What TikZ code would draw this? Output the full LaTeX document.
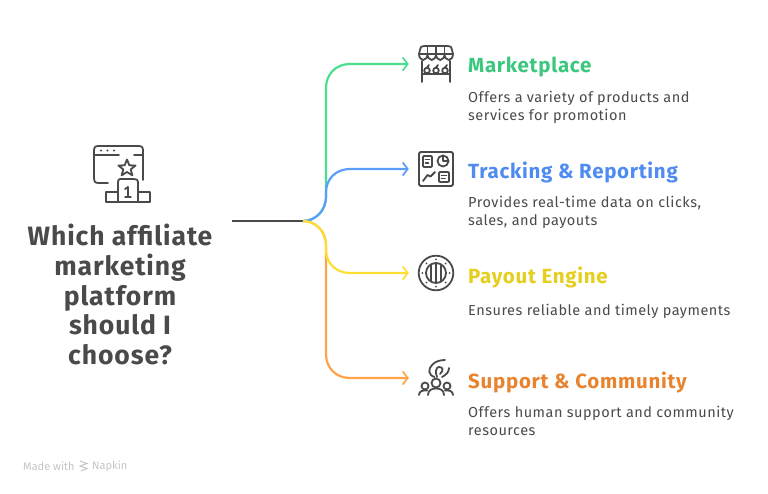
\documentclass[tikz,border=0pt]{standalone}
\usepackage{fontspec}
\setmainfont[LetterSpace=3.5]{Fira Sans}
\newfontfamily\plainfooter{Fira Sans}
\usepackage{xcolor}
\usetikzlibrary{positioning,arrows.meta}

\definecolor{inkgray}{HTML}{4A4A4A}
\definecolor{footgray}{HTML}{C4C4C4}
\definecolor{linegreen}{HTML}{4ADE8E}
\definecolor{lineblue}{HTML}{5B9DF9}
\definecolor{lineyellow}{HTML}{FFDE34}
\definecolor{lineorange}{HTML}{FFA446}
\definecolor{titlegreen}{HTML}{3CC77E}
\definecolor{titleblue}{HTML}{4F8BF0}
\definecolor{titleyellow}{HTML}{E5CF1C}
\definecolor{titleorange}{HTML}{E8842F}

\tikzset{
    iconbox/.style={minimum size=34pt, inner sep=0pt},
    heading/.style={anchor=west, inner sep=0pt, font=\fontsize{20.5}{24}\selectfont\bfseries},
    blurb/.style={anchor=north west, inner sep=0pt, align=left, text=inkgray,
        font=\fontsize{14.5}{18}\selectfont},
    question/.style={align=center, inner sep=0pt, text=inkgray,
        font=\fontsize{26.5}{29.7}\selectfont\bfseries},
    footnote/.style={anchor=west, inner sep=0pt, text=footgray,
        font=\plainfooter\fontsize{11}{12}\selectfont},
    link/.style={line width=2.2pt, -{Straight Barb[length=5pt,width=13pt,line width=1.7pt]},
        shorten >=10pt},
    stem/.style={line width=2.2pt, inkgray},
    glyph/.style={line width=1.8pt, inkgray, line cap=round, line join=round},
    stallicon/.pic={
        \draw[glyph] (-17,-10) -- (-16,-14) .. controls (-15.5,-17) and (-15,-18) .. (-12,-18)
            -- (12,-18) .. controls (15,-18) and (15.5,-17) .. (16,-14) -- (17,-10);
        \draw[glyph] (-17,-10) -- (17,-10);
        \draw[glyph] (-17,-10) arc[start angle=180, end angle=0, x radius=4.25, y radius=6]
            arc[start angle=180, end angle=0, x radius=4.25, y radius=6]
            arc[start angle=180, end angle=0, x radius=4.25, y radius=6]
            arc[start angle=180, end angle=0, x radius=4.25, y radius=6];
        \draw[glyph] (-8.5,-18) -- (-8.5,-10) (0,-18) -- (0,-10) (8.5,-18) -- (8.5,-10);
        \draw[glyph] (-14,-3) -- (-14,18) (14,-3) -- (14,18) (-14,10) -- (14,10);
        \draw[glyph] (-9,6.5) circle[radius=2.8] (0,6.5) circle[radius=2.8] (9,6.5) circle[radius=2.8];
        \draw[glyph] (-9,3.5) -- (-7,1) (0,3.5) -- (2,1) (9,3.5) -- (11,1);
    },
    trackicon/.pic={
        \draw[glyph, rounded corners=1.5pt] (-17,-17) rectangle (17,17);
        \draw[glyph, rounded corners=1pt] (-13,-13) rectangle (-4,-2);
        \draw[glyph] (-10.5,-9.5) -- (-6.5,-9.5) (-10.5,-6) -- (-7.5,-6);
        \draw[glyph] (7,-8) circle[radius=5.5];
        \draw[glyph] (7,-13.5) -- (7,-8) -- (12.5,-8);
        \draw[glyph] (-13,12) -- (-8.5,6) -- (-5.5,7.5) -- (-1,3);
        \draw[glyph, rounded corners=1pt] (3,3) rectangle (13,13);
        \draw[glyph] (5.5,6.5) -- (10.5,6.5) (5.5,9.5) -- (9,9.5);
    },
    payicon/.pic={
        \draw[glyph] (0,0) circle[radius=17.3] (0,0) circle[radius=10];
        \draw[glyph] (-5,-8.5) -- (-5,8.5) (0,-10) -- (0,10) (5,-8.5) -- (5,8.5);
        \fill[inkgray] (0,-13.6) circle[radius=1] (0,13.6) circle[radius=1]
            (-13.6,0) circle[radius=1] (13.6,0) circle[radius=1]
            (-9.6,-9.6) circle[radius=1] (9.6,-9.6) circle[radius=1]
            (-9.6,9.6) circle[radius=1] (9.6,9.6) circle[radius=1];
    },
    crewicon/.pic={
        \draw[glyph] (-1.5,-1) .. controls (-8,-3) and (-8,-9) .. (-4,-13)
            .. controls (-1,-16.5) and (4,-18) .. (9,-18);
        \draw[glyph] (1,-1) .. controls (-1,-6) and (0,-11) .. (3,-11)
            .. controls (7,-11) and (8,-8) .. (4,-4);
        \draw[glyph] (6,-1) .. controls (10,-3) and (13,-6) .. (13,-10);
        \draw[glyph] (-11,8) circle[radius=3.5] (0,5) circle[radius=4.5] (11,8) circle[radius=3.5];
        \draw[glyph] (-17,17) .. controls (-17,13) and (-13,12) .. (-9,12.5);
        \draw[glyph] (17,17) .. controls (17,13) and (13,12) .. (9,12.5);
        \draw[glyph] (-8,17) .. controls (-8,12) and (-4,10.5) .. (0,10.5)
            .. controls (4,10.5) and (8,12) .. (8,17);
    },
    prizeicon/.pic={
        \draw[glyph] (-26,8) -- (-26,-18) .. controls (-26,-22) and (-25,-23) .. (-21,-23)
            -- (18,-23) .. controls (22,-23) and (23,-22) .. (23,-18) -- (23,11);
        \draw[glyph] (-12,14) -- (-21,14) .. controls (-25,14) and (-26,13) .. (-26,8);
        \draw[glyph] (-26,-14) -- (-1,-14) (14,-14) -- (23,-14);
        \fill[inkgray] (-19,-18.5) circle[radius=1.1] (-12.5,-18.5) circle[radius=1.1]
            (-6,-18.5) circle[radius=1.1];
        \draw[glyph] (7,-9.5) -- (9.3,-3.7) -- (15.6,-3.5) -- (10.7,0.4) -- (12.4,6.4)
            -- (7,3) -- (1.6,6.4) -- (3.3,0.4) -- (-1.6,-3.5) -- (4.7,-3.7) -- cycle;
        \draw[glyph] (-2,33) -- (-2,13) .. controls (-2,11) and (-1,10) .. (0,10)
            -- (14,10) .. controls (17,10) and (18,11) .. (18,13) -- (18,33);
        \draw[glyph] (-2,23) -- (-14,23) -- (-14,33) -- (30,33) -- (30,23) -- (18,23);
        \draw[glyph] (5,20) -- (8,18) -- (8,28) (5,28) -- (11,28);
    },
}

\begin{document}
\begin{tikzpicture}[x=1pt, y=-1pt]

    \useasboundingbox (0,0) rectangle (768,493);

    \coordinate (stemstart) at (232,221);
    \coordinate (hub) at (303,221);
    \node[iconbox] (market) at (436,64) {};
    \node[iconbox] (tracking) at (436,169) {};
    \node[iconbox] (payout) at (436,273) {};
    \node[iconbox] (support) at (436,378) {};
    \node[question] (ask) at (120,294.5) {Which affiliate\\marketing\\platform\\should I\\choose?};
    \coordinate (prize) at (120,169);

    \draw[stem] (stemstart) -- (hub);

    \draw[link, linegreen] (hub) .. controls (316,221) and (326,210) .. (326,197) -- (326,88)
        .. controls (326,74) and (336,64) .. (350,64) -- (market);
    \draw[link, lineorange] (hub) .. controls (316,221) and (326,232) .. (326,245) -- (326,354)
        .. controls (326,368) and (336,378) .. (350,378) -- (support);
    \draw[link, lineblue] (hub) .. controls (316,221) and (326,210) .. (326,197) -- (326,192)
        .. controls (326,179) and (336,169) .. (350,169) -- (tracking);
    \draw[link, lineyellow] (hub) .. controls (316,221) and (326,232) .. (326,245) -- (326,250)
        .. controls (326,263) and (336,273) .. (350,273) -- (payout);

    \pic at (market) {stallicon};
    \pic at (tracking) {trackicon};
    \pic at (payout) {payicon};
    \pic at (support) {crewicon};
    \pic at (prize) {prizeicon};

    \node[heading, text=titlegreen] (markettitle) at (468,67) {Marketplace};
    \node[heading, text=titleblue] (trackingtitle) at (468,172) {Tracking \& Reporting};
    \node[heading, text=titleyellow] (payouttitle) at (468,277) {Payout Engine};
    \node[heading, text=titleorange] (supporttitle) at (468,382) {Support \& Community};

    \node[blurb] (marketnote) at (468,91) {Offers a variety of products and\\services for promotion};
    \node[blurb] (trackingnote) at (468,196) {Provides real-time data on clicks,\\sales, and payouts};
    \node[blurb] (payoutnote) at (468,304) {Ensures reliable and timely payments};
    \node[blurb] (supportnote) at (468,406) {Offers human support and community\\resources};

    % footer
    \node[footnote] (madewith) at (23,466) {Made with};
    \draw[footgray, line width=1pt] (80,461) -- (87,463.5) -- (80,466) -- (87,468.5) -- (81,471);
    \node[footnote] (napkin) at (92,466) {Napkin};
\end{tikzpicture}
\end{document}
